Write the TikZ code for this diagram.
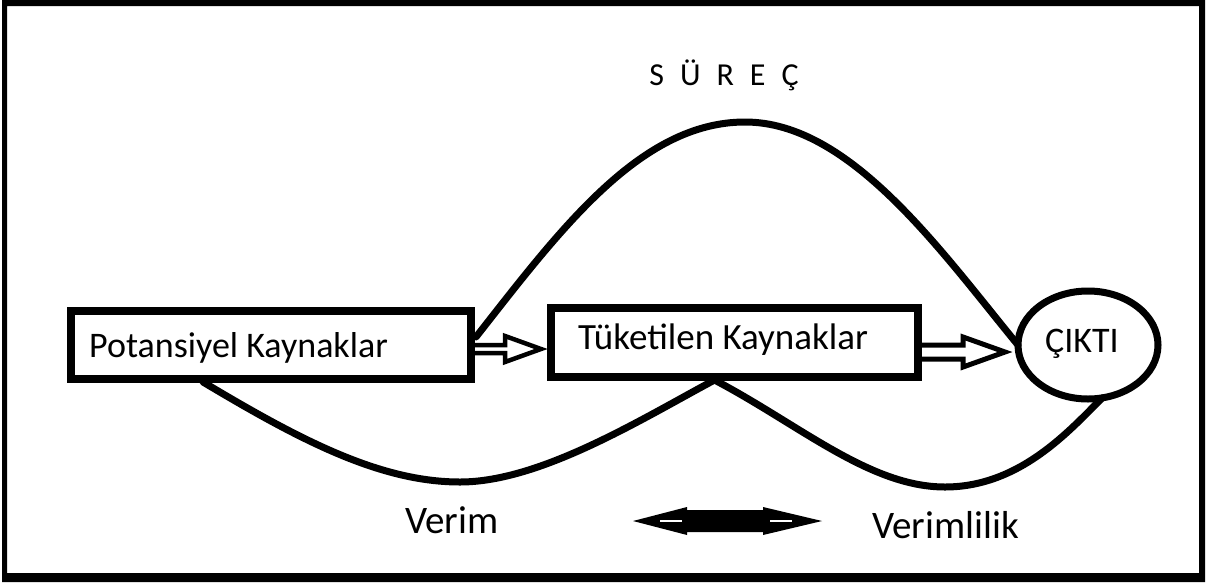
\documentclass[tikz,border=0pt]{standalone}
\usepackage{fontspec}
\setmainfont{Carlito}
\usetikzlibrary{shapes.geometric,calc}
\begin{document}
\begin{tikzpicture}[x=1pt,y=-1pt,
  box/.style={draw,line width=8pt,rectangle,inner sep=0pt,outer sep=0pt},
  oval/.style={draw,line width=7pt,ellipse,inner sep=0pt,outer sep=0pt},
  lbl/.style={inner sep=0pt,font=\fontsize{36}{40}\selectfont},
  curve/.style={line width=7pt,line cap=round},
  hollow/.style={line width=4.5pt,line join=miter}]
\useasboundingbox (0,0) rectangle (1209,584);
% outer frame
\fill[even odd rule] (2,0) rectangle (1205,582) (7,6) rectangle (1199,573);

% boxes and output oval
\node[box,minimum width=400pt,minimum height=68pt] (p) at (271,345) {};
\node[box,minimum width=367pt,minimum height=69pt] (t) at (734.5,342.5) {};
\node[oval,minimum width=140pt,minimum height=108pt] (c) at (1088,345) {};

% labels
\node[lbl,anchor=base west] (pl) at (89,357) {Potansiyel Kaynaklar};
\node[lbl,anchor=base west,font=\fontsize{37}{40}\selectfont] (tl) at (578,349) {Tüketilen Kaynaklar};
\node[lbl,anchor=base west] (cl) at (1045,352) {ÇIKTI};
\node[inner sep=0pt,anchor=base,font=\fontsize{32}{36}\selectfont] (sl) at (724,85)
  {S\hspace{16pt}Ü\hspace{16pt}R\hspace{16pt}E\hspace{16pt}Ç};
\node[lbl,anchor=base west,font=\fontsize{39}{44}\selectfont] (vl) at (405,533) {Verim};
\node[lbl,anchor=base west,font=\fontsize{39}{44}\selectfont] (vml) at (872,538) {Verimlilik};

% hollow block arrows between the stages
\coordinate (a1) at ($(p.east)+(4,0)$);
\draw[hollow] (a1) -- ++(30,0) -- ++(0,-9) -- ++(36,13) -- ++(-36,13) -- ++(0,-9) -- ++(-30,0);
\coordinate (a2) at ($(t.east)+(4,2.5)$);
\draw[hollow,line width=5pt] (a2) -- ++(41,0) -- ++(0,-8) -- ++(42,15) -- ++(-42,15) -- ++(0,-8) -- ++(-41,0);

% process arc over the consumed resources
\coordinate (s0) at ($(p.east)+(5,-8)$);
\draw[curve] (s0) .. controls (560,230) and (640,122) .. (745,122)
  .. controls (850,122) and (940,250) .. (c.west);

% efficiency curves below
\coordinate (b0) at ($(p.south west)!0.33!(p.south east)+(0,3)$);
\coordinate (b1) at ($(t.south)+(-20,3)$);
\draw[curve] (b0) .. controls (300,440) and (380,482) .. (460,482)
  .. controls (540,482) and (640,420) .. (b1);
\draw[curve] (b1) .. controls (800,425) and (870,487) .. (945,487)
  .. controls (1020,487) and (1070,430) .. (c.-75);

% double-headed arrow between the two terms
\coordinate (dl) at (633,521);
\coordinate (dr) at (822,521);
\fill[line join=round] (dl) -- (687,507) -- (687,510) -- (763,510) -- (763,507) -- (dr)
  -- (763,535) -- (763,532) -- (687,532) -- (687,535) -- cycle;
\draw[white,line width=2pt] (660,521) -- (682,521);
\draw[white,line width=2pt] (770,521) -- (792,521);
\end{tikzpicture}
\end{document}
